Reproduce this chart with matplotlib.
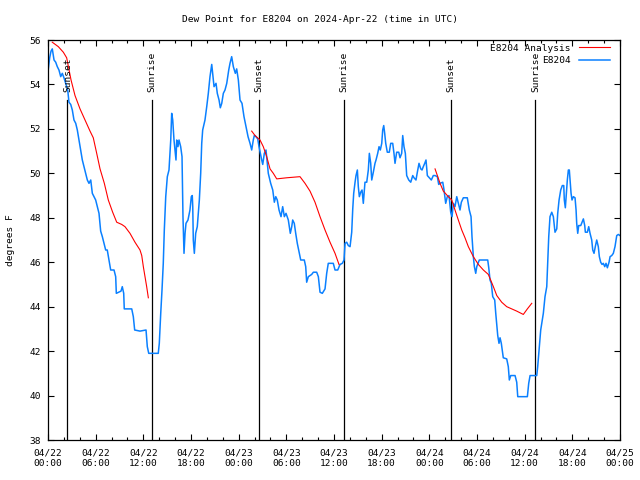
import numpy as np
import matplotlib
matplotlib.use('Agg')
import matplotlib.pyplot as plt

# hours since 2024-04-22 00:00 UTC, dew point in deg F
obs_hours = [0.04, 0.21, 0.38, 0.54, 0.76, 0.97, 1.17, 1.38, 1.60, 1.80, 2.01, 2.23, 2.48, 2.64, 2.86,
             3.06, 3.27, 3.49, 3.69, 3.90, 4.12, 4.32, 4.53, 4.75, 4.95, 5.16, 5.38, 5.58, 5.79, 6.00,
             6.21, 6.42, 6.63, 6.84, 7.05, 7.26, 7.46, 7.68, 7.89, 8.31, 8.52, 8.60, 9.19, 9.35, 9.53,
             9.60, 10.54, 10.74, 10.91, 11.58, 12.34, 12.50, 12.68, 13.88, 14.01, 14.19, 14.35, 14.51,
             14.64, 14.82, 15.02, 15.23, 15.45, 15.57, 15.70, 15.86, 15.99, 16.11, 16.20, 16.36, 16.49,
             16.70, 16.87, 16.99, 17.12, 17.25, 17.37, 17.62, 17.87, 18.04, 18.16, 18.22, 18.29, 18.42,
             18.59, 18.79, 19.05, 19.22, 19.35, 19.47, 19.76, 19.98, 20.18, 20.39, 20.61, 20.73, 20.90,
             21.15, 21.31, 21.53, 21.69, 21.87, 22.07, 22.28, 22.50, 22.75, 22.91, 23.12, 23.33, 23.58,
             23.75, 23.96, 24.17, 24.42, 24.67, 24.92, 25.18, 25.43, 25.64, 25.84, 25.97, 26.06, 26.40,
             26.56, 26.90, 27.03, 27.23, 27.44, 27.61, 27.73, 28.03, 28.29, 28.49, 28.67, 28.86, 29.08,
             29.33, 29.54, 29.75, 29.96, 30.25, 30.50, 30.68, 30.80, 31.00, 31.18, 31.38, 31.63, 31.81,
             32.26, 32.44, 32.56, 32.77, 33.19, 33.40, 33.82, 34.03, 34.24, 34.53, 34.87, 35.08, 35.28,
             35.91, 36.13, 36.47, 36.76, 37.05, 37.26, 37.39, 37.60, 37.80, 38.02, 38.23, 38.36, 38.48,
             38.65, 38.77, 38.94, 39.06, 39.19, 39.36, 39.53, 39.69, 39.90, 40.12, 40.32, 40.45, 40.62,
             40.75, 40.95, 41.16, 41.29, 41.50, 41.67, 41.83, 42.01, 42.13, 42.26, 42.38, 42.51, 42.71,
             42.96, 43.14, 43.39, 43.55, 43.68, 43.89, 44.15, 44.31, 44.52, 44.65, 44.81, 44.98, 45.15,
             45.41, 45.66, 45.91, 46.07, 46.32, 46.49, 46.70, 46.92, 47.08, 47.24, 47.42, 47.58, 47.75,
             48.00, 48.25, 48.50, 48.72, 49.01, 49.18, 49.35, 49.69, 49.85, 50.06, 50.26, 50.48, 50.69,
             50.86, 51.02, 51.23, 51.45, 51.65, 51.86, 52.03, 52.28, 52.78, 53.03, 53.25, 53.37, 53.54,
             53.67, 53.84, 53.97, 54.29, 55.35, 55.48, 55.64, 55.80, 55.98, 56.23, 56.36, 56.61, 56.77,
             56.90, 57.06, 57.24, 57.31, 57.74, 57.94, 58.07, 58.25, 58.79, 59.00, 59.13, 60.34, 60.51,
             60.68, 61.52, 61.64, 61.81, 62.02, 62.15, 62.35, 62.56, 62.78, 62.90, 63.03, 63.19, 63.41,
             63.61, 63.82, 64.04, 64.16, 64.33, 64.54, 64.74, 64.92, 64.99, 65.12, 65.21, 65.37, 65.50,
             65.62, 65.71, 65.84, 65.96, 66.13, 66.34, 66.47, 66.55, 66.68, 66.80, 67.06, 67.22, 67.39,
             67.56, 67.64, 67.89, 68.06, 68.23, 68.44, 68.57, 68.73, 68.89, 69.07, 69.27, 69.40, 69.57,
             69.74, 69.90, 70.08, 70.24, 70.41, 70.62, 70.75, 70.96, 71.16, 71.37, 71.59, 71.79, 72.00]
obs_dewpt = [54.7, 55.2, 55.5, 55.6, 55.1, 55.0, 54.8, 54.65, 54.35, 54.5, 54.3, 54.05, 53.75, 53.2, 53.1,
             52.85, 52.4, 52.25, 51.95, 51.5, 51.05, 50.6, 50.3, 50.0, 49.7, 49.55, 49.7, 49.1, 48.95, 48.8,
             48.5, 48.2, 47.4, 47.15, 46.85, 46.55, 46.55, 46.1, 45.65, 45.65, 45.35, 44.6, 44.7, 44.9, 44.6,
             43.9, 43.9, 43.55, 42.95, 42.9, 42.95, 42.2, 41.9, 41.9, 42.35, 43.7, 44.75, 45.95,
             47.45, 48.95, 49.85, 50.15, 51.5, 52.7, 52.4, 51.5, 51.05, 50.6, 51.5, 51.2, 51.5,
             51.2, 50.75, 48.05, 46.4, 47.3, 47.75, 47.9, 48.35, 48.95, 49.0, 48.5, 47.0, 46.4,
             47.3, 47.6, 48.8, 50.0, 51.35, 51.95, 52.4, 53.0, 53.6, 54.35, 54.9, 54.5, 53.9,
             54.05, 53.6, 53.3, 52.95, 53.15, 53.6, 53.75, 54.05, 54.65, 54.95, 55.25, 54.8, 54.5,
             54.7, 54.2, 53.3, 53.15, 52.55, 52.1, 51.65, 51.35, 51.05, 51.5, 51.7, 51.7, 51.55,
             51.2, 50.6, 50.4, 50.9, 51.05, 50.45, 50.0, 49.55, 49.25, 48.7, 48.95, 48.8, 48.35,
             48.05, 48.5, 48.05, 48.2, 47.9, 47.3, 47.6, 47.9, 47.75, 47.3, 46.85, 46.4, 46.1,
             46.1, 45.8, 45.1, 45.35, 45.45, 45.55, 45.55, 45.35, 44.65, 44.6, 44.8, 45.5, 45.95,
             45.95, 45.65, 45.65, 45.9, 45.95, 46.1, 46.85, 46.9, 46.75, 46.7, 47.35, 48.4, 49.1,
             49.6, 49.9, 50.15, 49.4, 48.95, 49.15, 49.25, 48.65, 49.6, 49.6, 50.15, 50.9, 50.45,
             49.7, 50.05, 50.45, 50.6, 50.9, 51.2, 51.05, 51.35, 51.95, 52.15, 51.8, 51.35, 50.95,
             50.95, 51.35, 51.35, 50.9, 50.45, 50.95, 50.95, 50.7, 50.9, 51.7, 51.2, 50.9, 49.9,
             49.7, 49.6, 49.9, 49.8, 49.7, 50.05, 50.45, 50.2, 50.15, 50.3, 50.45, 50.6, 49.9,
             49.8, 49.7, 49.9, 49.9, 49.85, 49.5, 49.55, 49.6, 49.25, 48.65, 48.95, 49.0, 48.25,
             48.05, 48.65, 48.5, 48.95, 48.65, 48.35, 48.7, 48.9, 48.9, 48.35, 48.05, 47.15, 46.25,
             45.8, 45.5, 45.8, 46.1, 46.1, 45.75, 45.2, 45.05, 44.45, 44.3, 43.7, 42.7, 42.35,
             42.6, 42.35, 41.9, 41.7, 41.65, 41.3, 40.7, 40.9, 40.9, 40.6, 39.95, 39.95, 40.55,
             40.9, 40.9, 41.3, 42.05, 42.95, 43.25, 43.7, 44.45, 44.9, 45.95, 47.15, 48.05, 48.25,
             48.05, 47.35, 47.5, 48.2, 48.8, 49.25, 49.45, 49.45, 48.8, 48.45, 48.9, 49.7, 50.15,
             50.15, 49.7, 49.1, 48.8, 48.95, 48.9, 48.35, 47.75, 47.3, 47.65, 47.65, 47.8, 47.95,
             47.65, 47.35, 47.35, 47.6, 47.3, 47.0, 46.55, 46.4, 46.7, 47.0, 46.7, 46.25, 46.0,
             45.9, 45.95, 45.8, 45.95, 45.75, 46.0, 46.25, 46.3, 46.4, 46.7, 47.2, 47.25, 47.2]

# analysis runs (three separate nights)
ana1_hours = [0.54, 1.30, 1.93, 2.35, 2.90, 3.40, 4.03, 4.66, 5.29, 5.70, 6.13, 6.55, 7.09, 7.59,
              8.14, 8.65, 9.28, 9.69, 10.32, 10.95, 11.58, 11.80, 12.00, 12.21, 12.42, 12.63]
ana1_dewpt = [55.9, 55.7, 55.45, 55.2, 54.2, 53.5, 52.9, 52.4, 51.9, 51.6, 50.9, 50.2, 49.55, 48.8,
              48.25, 47.8, 47.7, 47.6, 47.3, 46.9, 46.55, 46.3, 45.8, 45.35, 44.9, 44.4]
ana2_hours = [25.64, 26.06, 26.69, 27.10, 27.53, 27.95, 28.36, 28.79, 30.05, 31.72, 32.35, 32.98,
              33.61, 34.24, 34.87, 35.50, 36.13, 36.63]
ana2_dewpt = [51.9, 51.7, 51.5, 51.2, 50.75, 50.2, 50.0, 49.75, 49.8, 49.85, 49.55, 49.2,
              48.7, 48.05, 47.45, 46.9, 46.4, 45.9]
ana3_hours = [48.72, 49.35, 49.76, 50.39, 50.82, 51.23, 51.65, 52.08, 52.49, 52.91, 53.54, 54.17,
              54.80, 55.43, 56.06, 56.49, 57.11, 57.74, 58.37, 59.00, 59.83, 60.34, 60.89]
ana3_dewpt = [50.2, 49.55, 49.2, 48.95, 48.8, 48.35, 47.9, 47.45, 47.1, 46.7, 46.25, 45.9,
              45.65, 45.45, 44.9, 44.5, 44.2, 44.0, 43.9, 43.8, 43.65, 43.9, 44.15]

sun_hours = [2.45, 13.12, 26.6, 37.3, 50.77, 61.35]
sun_names = ['Sunset', 'Sunrise', 'Sunset', 'Sunrise', 'Sunset', 'Sunrise']

xtick_hours = list(range(0, 73, 6))
xtick_labels = ['04/22\n00:00', '04/22\n06:00', '04/22\n12:00', '04/22\n18:00',
                '04/23\n00:00', '04/23\n06:00', '04/23\n12:00', '04/23\n18:00',
                '04/24\n00:00', '04/24\n06:00', '04/24\n12:00', '04/24\n18:00',
                '04/25\n00:00']

plt.rcParams['font.family'] = ['DejaVu Sans Mono']
plt.rcParams['font.size'] = 6.8

fig = plt.figure(figsize=(6.4, 4.8), dpi=100)
ax = fig.add_axes([48 / 640, 40 / 480, 572 / 640, 400 / 480])

ana_h = ana1_hours + [np.nan] + ana2_hours + [np.nan] + ana3_hours
ana_v = ana1_dewpt + [np.nan] + ana2_dewpt + [np.nan] + ana3_dewpt
ax.plot(ana_h, ana_v, color='#ff0000', lw=0.8, label='E8204 Analysis', zorder=3)
ax.plot(obs_hours, obs_dewpt, color='#0a80ff', lw=1.1, label='E8204', zorder=2)

for t, name in zip(sun_hours, sun_names):
    ax.plot([t, t], [0, 0.85], color='black', lw=0.9, transform=ax.get_xaxis_transform(), zorder=1)
    ax.text(t, 0.87, name, rotation=90, ha='center', va='bottom',
            transform=ax.get_xaxis_transform())

ax.set_xlim(0, 72)
ax.set_ylim(38, 56)
ax.set_xticks(xtick_hours)
ax.set_xticklabels(xtick_labels, linespacing=1.3)
ax.set_xticks(range(0, 73, 2), minor=True)
ax.set_yticks(range(38, 57, 2))
ax.tick_params(which='both', direction='in', top=True, right=True, color='black')
ax.tick_params(which='major', length=4, width=0.8)
ax.tick_params(which='minor', length=2, width=0.8)
ax.tick_params(axis='x', pad=6)
ax.tick_params(axis='y', pad=5)
for s in ax.spines.values():
    s.set_linewidth(0.9)

# title centred on the canvas like gnuplot does
fig.text(0.5, 1 - 19 / 480, 'Dew Point for E8204 on 2024-Apr-22 (time in UTC)',
         ha='center', va='center')
ax.set_ylabel('degrees F', labelpad=8)
ax.yaxis.set_label_coords(-0.058, 0.5)

ax.legend(loc='upper right', bbox_to_anchor=(0.995, 1.01), frameon=False, markerfirst=False,
          handlelength=3.2, handletextpad=0.9, labelspacing=0.35, borderpad=0.3)

plt.savefig('out.png', dpi=100)
